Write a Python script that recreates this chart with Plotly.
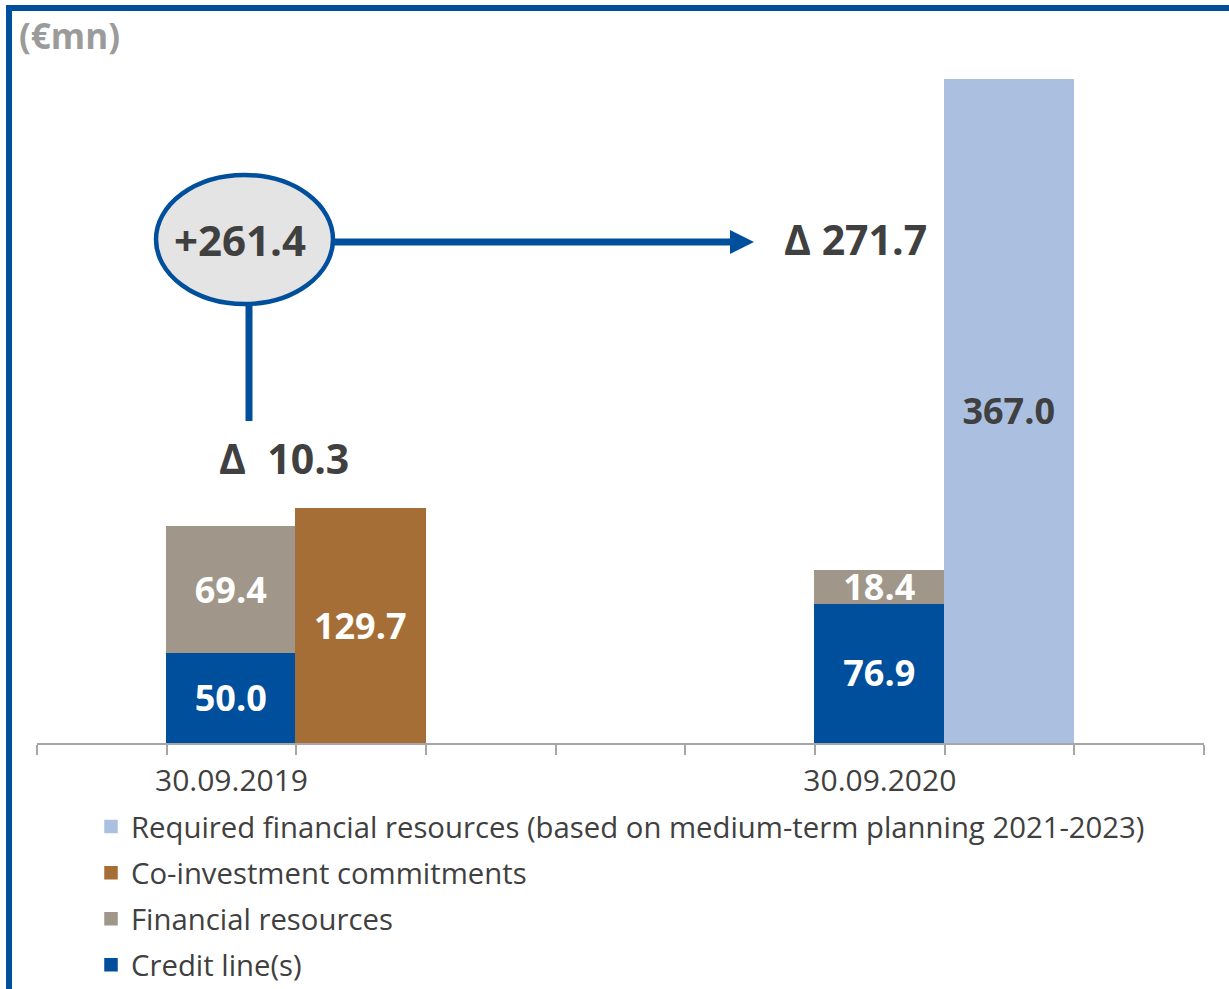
import plotly.graph_objects as go

# ---- data ----
categories = ["30.09.2019", "30.09.2020"]
credit_line = [50.0, 76.9]
financial_resources = [69.4, 18.4]
co_investment = [129.7]
required_resources = [367.0]
delta_2019 = "Δ\u00a0\u00a010.3"
delta_2020 = "Δ 271.7"
difference = "+261.4"

# ---- layout geometry (pixels) ----
W, H = 1229, 989
L, R, T, B = 37, 25, 20, 246
PW, PH = W - L - R, H - T - B
YMAX = 400
N_SLOTS = 9
cat_slot = [1.5, 6.5]          # first bar of each group
second_slot = [2.5, 7.5]


def px(x):
    return (x - L) / PW


def py(y):
    return (H - B - y) / PH


BLUE = "#004f9c"
GREY = "#a09689"
BROWN = "#a66e37"
LIGHT = "#abc0e1"
DARK = "#404040"
FONT = "Open Sans"

fig = go.Figure()
label_font = dict(family=FONT, size=36, weight="bold")


def bar(x, y, name, color, txtcolor, rank):
    return go.Bar(
        x=x, y=y, name=name, width=1, legendrank=rank, legendgroup=name,
        marker=dict(color=color, line=dict(color=color, width=1.5)),
        texttemplate="%{y:.1f}", textposition="inside", insidetextanchor="middle",
        textangle=0, insidetextfont=dict(color=txtcolor, **label_font),
        cliponaxis=False)


fig.add_trace(bar(cat_slot, credit_line, "Credit line(s)", BLUE, "white", 4))
fig.add_trace(bar(cat_slot, financial_resources, "Financial resources", GREY, "white", 3))
fig.add_trace(bar(second_slot[:1], co_investment, "Co-investment commitments", BROWN, "white", 2))
fig.add_trace(bar(second_slot[1:], required_resources,
                  "Required financial resources (based on medium-term planning 2021-2023)",
                  LIGHT, DARK, 1))

shapes = [
    # outer frame
    dict(type="rect", xref="paper", yref="paper", x0=px(9), x1=px(1300), y0=py(1100), y1=py(8),
         line=dict(color=BLUE, width=6), fillcolor="rgba(0,0,0,0)", layer="above"),
    # ellipse
    dict(type="circle", xref="paper", yref="paper", x0=px(156), x1=px(333), y0=py(304), y1=py(175),
         line=dict(color=BLUE, width=4.5), fillcolor="#e4e4e4", layer="above"),
    # horizontal connector
    dict(type="line", xref="paper", yref="paper", x0=px(333), x1=px(733), y0=py(242), y1=py(242),
         line=dict(color=BLUE, width=7), layer="below"),
    # arrow head
    dict(type="path", xref="paper", yref="paper",
         path=f"M {px(730)},{py(230)} L {px(754)},{py(242)} L {px(730)},{py(254)} Z",
         line=dict(color=BLUE, width=0), fillcolor=BLUE, layer="above"),
    # vertical connector
    dict(type="line", xref="paper", yref="paper", x0=px(249), x1=px(249), y0=py(304), y1=py(421),
         line=dict(color=BLUE, width=7), layer="below"),
]

annotations = [
    dict(text="(€mn)", xref="paper", yref="paper", x=px(17), y=py(35), xanchor="left",
         yanchor="middle", showarrow=False,
         font=dict(family=FONT, size=35, weight="bold", color="#9b9b9b")),
    dict(text=difference, xref="paper", yref="paper", x=px(240), y=py(239), xanchor="center",
         yanchor="middle", showarrow=False,
         font=dict(family=FONT, size=42, weight="bold", color=DARK)),
    dict(text=delta_2020, xref="paper", yref="paper", x=px(855), y=py(239), xanchor="center",
         yanchor="middle", showarrow=False,
         font=dict(family=FONT, size=41, weight="bold", color=DARK)),
    dict(text=delta_2019, xref="paper", yref="paper", x=px(284), y=py(458), xanchor="center",
         yanchor="middle", showarrow=False,
         font=dict(family=FONT, size=41, weight="bold", color=DARK)),
]

fig.update_layout(
    width=W, height=H,
    margin=dict(l=L, r=R, t=T, b=B, pad=0, autoexpand=False),
    paper_bgcolor="white", plot_bgcolor="white",
    barmode="stack", bargap=0,
    font=dict(family=FONT, color=DARK),
    uniformtext=dict(minsize=36, mode="show"),
    showlegend=True,
    legend=dict(x=px(91), y=py(801), xanchor="left", yanchor="top",
                traceorder="grouped", tracegroupgap=5,
                font=dict(family=FONT, size=29.3, color=DARK),
                bgcolor="rgba(0,0,0,0)", borderwidth=0),
    xaxis=dict(range=[0, N_SLOTS], tickmode="array", tickvals=cat_slot, ticktext=categories,
               ticks="", showgrid=False, zeroline=False, showline=True, automargin=False,
               linecolor="#a6a6a6", linewidth=2, ticklabelstandoff=10,
               tickfont=dict(family=FONT, size=30, color=DARK),
               minor=dict(tickmode="linear", tick0=0, dtick=1, ticks="outside", ticklen=10,
                          tickwidth=2, tickcolor="#a6a6a6", showgrid=False),
               fixedrange=True),
    yaxis=dict(range=[0, YMAX], visible=False, fixedrange=True, automargin=False),
    shapes=shapes,
    annotations=annotations,
)

fig.write_html("out.html")
